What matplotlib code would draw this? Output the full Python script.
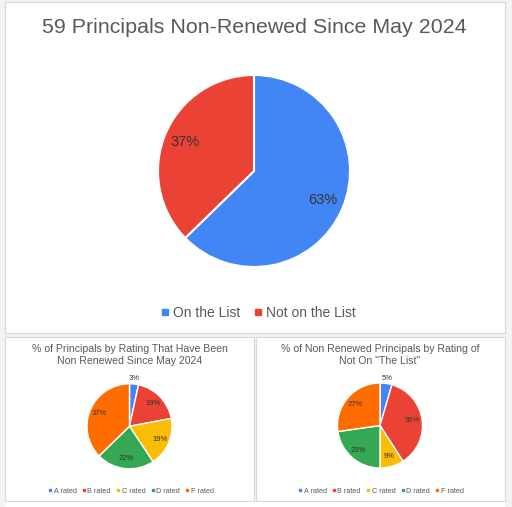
import matplotlib
matplotlib.use("Agg")
import numpy as np
import matplotlib.pyplot as plt
from matplotlib.patches import Rectangle
from matplotlib.lines import Line2D

plt.rcParams['font.family'] = ['Liberation Sans', 'DejaVu Sans']

# ---------------------------------------------------------------------------
# DATA
# ---------------------------------------------------------------------------
MAIN_TITLE = "59 Principals Non-Renewed Since May 2024"
MAIN_LABELS = ["On the List", "Not on the List"]
MAIN_COUNTS = [37, 22]

RATINGS = ["A rated", "B rated", "C rated", "D rated", "F rated"]
ALL_TITLE = "% of Principals by Rating That Have Been\nNon Renewed Since May 2024"
ALL_COUNTS = [2, 11, 11, 13, 22]
NOT_LIST_TITLE = "% of Non Renewed Principals by Rating of\nNot On \"The List\""
NOT_LIST_COUNTS = [1, 8, 2, 5, 6]

MAIN_COLORS = ["#4285f4", "#ea4335"]
RATING_COLORS = ["#4285f4", "#ea4335", "#fbbc04", "#34a853", "#ff6d01"]

W, H = 512, 507
TITLE_C = "#595959"
LABEL_C = "#333333"


def fx(x):
    return x / W


def fy(y):
    return 1 - y / H


def panel(fig, x0, y0, x1, y1):
    fig.add_artist(Rectangle((fx(x0), fy(y1)), fx(x1 - x0), (y1 - y0) / H,
                             transform=fig.transFigure, facecolor="white",
                             edgecolor="#d9d9d9", lw=0.8, zorder=0))


def pie_axes(fig, cx, cy, r):
    ax = fig.add_axes([fx(cx - r), fy(cy + r), 2 * r / W, 2 * r / H])
    ax.axis("off")
    return ax


def draw_pie(ax, counts, colors, lw, fs, small_out=None, d=0.77):
    total = sum(counts)
    wedges, _ = ax.pie(counts, colors=colors, startangle=90, counterclock=False,
                       radius=1, wedgeprops=dict(edgecolor="white", linewidth=lw))
    ax.set_xlim(-1, 1)
    ax.set_ylim(-1, 1)
    ax.set_aspect("equal")
    for w, c in zip(wedges, counts):
        pct = round(100 * c / total)
        mid = np.deg2rad((w.theta1 + w.theta2) / 2)
        dist = d
        if small_out is not None and pct < small_out:
            dist = 1.12
        ax.text(dist * np.cos(mid), dist * np.sin(mid), f"{pct}%", ha="center",
                va="center", fontsize=fs, color=LABEL_C, clip_on=False)


def legend(fig, labels, colors, x, y, fs, ms, spacing, hl=0.6, pad=0.3):
    handles = [Line2D([], [], marker="s", ls="none", color=c, markersize=ms)
               for c in colors]
    fig.legend(handles, labels, loc="center", bbox_to_anchor=(fx(x), fy(y)),
               ncol=len(labels), frameon=False, fontsize=fs, handlelength=hl,
               handletextpad=pad, columnspacing=spacing, labelcolor=TITLE_C,
               borderpad=0)


fig = plt.figure(figsize=(W / 100, H / 100), dpi=100)
fig.patch.set_facecolor("#f3f3f3")

panel(fig, 5, 2, 505, 333)
panel(fig, 5, 337, 254, 501)
panel(fig, 256, 337, 505, 501)
fig.add_artist(Rectangle((fx(5), 0), fx(500), 5 / H, transform=fig.transFigure,
                         facecolor="white", edgecolor="none", zorder=0))

# top chart
fig.text(fx(254), fy(27.5), MAIN_TITLE, ha="center", va="center",
         fontsize=15.4, color=TITLE_C)
ax = pie_axes(fig, 254, 171, 96)
draw_pie(ax, MAIN_COUNTS, MAIN_COLORS, 1.5, 10.5, d=0.78)
legend(fig, MAIN_LABELS, MAIN_COLORS, 258, 313, 10, 4, 0.95)

# bottom left
fig.text(fx(129.5), fy(355.5), ALL_TITLE, ha="center", va="center",
         fontsize=7.6, color=TITLE_C, linespacing=1.25)
ax = pie_axes(fig, 129.5, 426.3, 42.5)
draw_pie(ax, ALL_COUNTS, RATING_COLORS, 1.0, 5.5, small_out=6)
legend(fig, RATINGS, RATING_COLORS, 131, 491, 5.2, 2.0, 0.75, hl=0.5, pad=0.25)

# bottom right
fig.text(fx(380), fy(355.5), NOT_LIST_TITLE, ha="center", va="center",
         fontsize=7.6, color=TITLE_C, linespacing=1.25)
ax = pie_axes(fig, 380, 425.5, 42.5)
draw_pie(ax, NOT_LIST_COUNTS, RATING_COLORS, 1.0, 5.5, small_out=6)
legend(fig, RATINGS, RATING_COLORS, 381, 491, 5.2, 2.0, 0.75, hl=0.5, pad=0.25)

fig.savefig("out.png", dpi=100, facecolor=fig.get_facecolor())
